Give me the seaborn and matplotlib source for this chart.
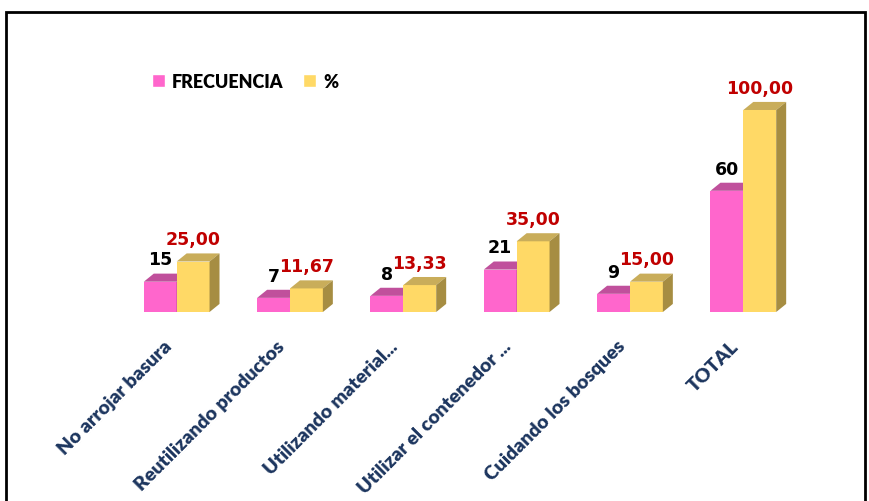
import matplotlib
matplotlib.use("Agg")
import matplotlib.pyplot as plt
import matplotlib.transforms as mtransforms
import pandas as pd
import seaborn as sns
from matplotlib.patches import Polygon, Rectangle

categorias = [
    "No arrojar basura",
    "Reutilizando productos",
    "Utilizando material...",
    "Utilizar el contenedor ...",
    "Cuidando los bosques",
    "TOTAL",
]
frecuencia = [15, 7, 8, 21, 9, 60]
porcentaje = [25.00, 11.67, 13.33, 35.00, 15.00, 100.00]
series = ["FRECUENCIA", "%"]

front = {"FRECUENCIA": "#FF66CC", "%": "#FFD966"}
top_col = {"FRECUENCIA": "#C0509C", "%": "#C9AD5A"}
side_col = {"FRECUENCIA": "#A33F82", "%": "#A68D42"}

df = pd.DataFrame({
    "categoria": categorias * 2,
    "valor": frecuencia + porcentaje,
    "serie": [series[0]] * len(categorias) + [series[1]] * len(categorias),
})

sns.set_style("white")
fig = plt.figure(figsize=(8.7, 5.02), dpi=100)
ax = fig.add_axes([120 / 870, 1 - 313 / 502, 680 / 870, 242.4 / 502])

sns.barplot(data=df, x="categoria", y="valor", hue="serie", palette=front,
            width=0.58, saturation=1, legend=False, ax=ax)
ax.set_ylim(0, 120)
ax.set_xlim(-0.5, len(categorias) - 0.5)

dx, dy = 0.088, 4.0
for k, (cont, name) in enumerate(zip(ax.containers, series)):
    base_z = 2 + k
    for bar in cont.patches:
        bar.set_zorder(base_z)
        bar.set_edgecolor("none")
        x, w, h = bar.get_x(), bar.get_width(), bar.get_height()
        ax.add_patch(Polygon([(x, h), (x + w, h), (x + w + dx, h + dy), (x + dx, h + dy)],
                             closed=True, facecolor=top_col[name], edgecolor="none",
                             zorder=base_z + 0.1))
        ax.add_patch(Polygon([(x + w, 0), (x + w + dx, dy), (x + w + dx, h + dy), (x + w, h)],
                             closed=True, facecolor=side_col[name], edgecolor="none",
                             zorder=base_z + 0.1))
        if name == "FRECUENCIA":
            txt, col = f"{h:.0f}", "black"
        else:
            txt, col = f"{h:.2f}".replace(".", ","), "#C00000"
        ax.text(x + w / 2, h + 11, txt, ha="center", va="center",
                fontsize=12.5, fontweight="bold", color=col,
                family="DejaVu Sans", zorder=10)

ax.set_xticks(range(len(categorias)))
ax.set_xticklabels(categorias, rotation=45, ha="right", rotation_mode="anchor",
                   fontsize=14, fontweight="heavy", color="#1C355E", family="Lato")
ax.tick_params(axis="x", length=0, pad=18)
shift = mtransforms.ScaledTranslation(-14 / 100, 0, fig.dpi_scale_trans)
for lab in ax.get_xticklabels():
    lab.set_transform(lab.get_transform() + shift)
ax.set_yticks([])
ax.set_xlabel("")
ax.set_ylabel("")
for s in ax.spines.values():
    s.set_visible(False)

# legend
handles = [Rectangle((0, 0), 1, 1, facecolor=front[s]) for s in series]
fig.legend(handles, series, loc="center left", bbox_to_anchor=(136 / 870, 1 - 82 / 502),
           ncol=2, frameon=False, handlelength=0.7, handleheight=0.7,
           handletextpad=0.4, columnspacing=1.1,
           prop={"family": "Lato", "weight": "heavy", "size": 13}, labelcolor="black")

# outer frame
fig.patches.append(Rectangle((6 / 870, -0.05), 859 / 870, 1.05 - 13 / 502,
                             transform=fig.transFigure, fill=False,
                             edgecolor="black", linewidth=2))

fig.savefig("out.png", dpi=100)
